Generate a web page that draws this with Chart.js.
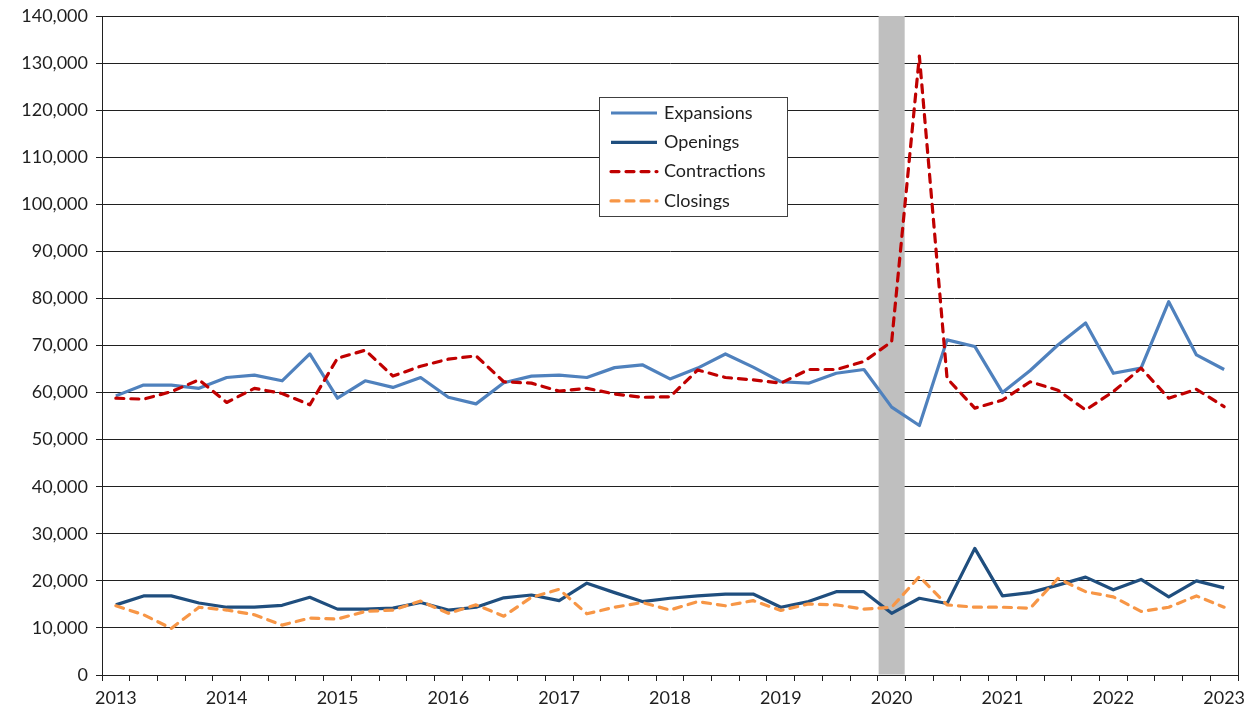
<!DOCTYPE html>
<html>
<head>
<meta charset="utf-8">
<script src="https://cdn.jsdelivr.net/npm/chart.js@4.4.1/dist/chart.umd.min.js"></script>
<style>
  html, body { margin: 0; padding: 0; background: #fff; }
  #wrap { width: 1253px; height: 717px; }
</style>
</head>
<body>
<div id="wrap"><canvas id="chart" width="1253" height="717"></canvas></div>
<script>
// quarters, 2013 Q1 .. 2023 Q1
const quarters = [
  '2013 Q1', '2013 Q2', '2013 Q3', '2013 Q4',
  '2014 Q1', '2014 Q2', '2014 Q3', '2014 Q4',
  '2015 Q1', '2015 Q2', '2015 Q3', '2015 Q4',
  '2016 Q1', '2016 Q2', '2016 Q3', '2016 Q4',
  '2017 Q1', '2017 Q2', '2017 Q3', '2017 Q4',
  '2018 Q1', '2018 Q2', '2018 Q3', '2018 Q4',
  '2019 Q1', '2019 Q2', '2019 Q3', '2019 Q4',
  '2020 Q1', '2020 Q2', '2020 Q3', '2020 Q4',
  '2021 Q1', '2021 Q2', '2021 Q3', '2021 Q4',
  '2022 Q1', '2022 Q2', '2022 Q3', '2022 Q4',
  '2023 Q1'
];

const expansions = [
  59300, 61600, 61600, 60900, 63200, 63700, 62500, 68200, 58800, 62500,
  61100, 63200, 59000, 57600, 62100, 63500, 63700, 63200, 65300, 65900,
  62900, 65200, 68200, 65400, 62300, 62000, 64100, 64900, 56900, 53000,
  71200, 69800, 60000, 64700, 70100, 74800, 64100, 65200, 79300, 68000,
  64900
];
const openings = [
  14900, 16800, 16800, 15300, 14400, 14400, 14800, 16500, 14000, 14000,
  14200, 15400, 13800, 14400, 16400, 17000, 15800, 19500, 17500, 15600,
  16300, 16800, 17200, 17200, 14400, 15600, 17700, 17700, 13100, 16300,
  15200, 26900, 16800, 17500, 19100, 20800, 18100, 20300, 16600, 20000,
  18500
];
const contractions = [
  58800, 58600, 60200, 62700, 57900, 60900, 59800, 57400, 67300, 69000,
  63500, 65600, 67100, 67800, 62300, 62000, 60300, 60900, 59700, 59000,
  59100, 64800, 63200, 62700, 62000, 64900, 64900, 66600, 70800, 131500,
  63000, 56700, 58400, 62300, 60500, 56300, 60200, 65200, 58800, 60700,
  57000
];
const closings = [
  14700, 12800, 9900, 14400, 13800, 12800, 10600, 12100, 11900, 13500,
  13800, 15700, 13100, 14900, 12500, 16500, 18200, 13000, 14400, 15400,
  13800, 15600, 14700, 15800, 13700, 15100, 14900, 14000, 14400, 20900,
  14900, 14400, 14400, 14200, 20500, 17700, 16600, 13500, 14400, 16800,
  14400
];
// recession shading: 2020 Q1, full height
const recession = quarters.map(q => q === '2020 Q1' ? 140000 : null);

const yMax = 140000;
const yStep = 10000;

Chart.defaults.font.family = 'Lato, "Open Sans", sans-serif';
Chart.defaults.font.size = 18;
Chart.defaults.color = '#1e1e1e';

const axisColor = '#202020';

const lineSeries = [
  { label: 'Expansions', data: expansions, color: '#4f81bd', dash: [], order: 4 },
  { label: 'Openings', data: openings, color: '#1f4e7e', dash: [], order: 3 },
  { label: 'Contractions', data: contractions, color: '#c00000', dash: [8, 7], order: 2 },
  { label: 'Closings', data: closings, color: '#f79646', dash: [8, 7], order: 1 }
];

// legend box drawn on the canvas, inside the plot
const boxLegend = {
  id: 'boxLegend',
  afterDatasetsDraw(chart) {
    const ctx = chart.ctx;
    const x0 = 599.5, y0 = 97.5, w = 188, h = 119;
    ctx.save();
    ctx.fillStyle = '#fff';
    ctx.strokeStyle = '#404040';
    ctx.lineWidth = 1;
    ctx.fillRect(x0, y0, w, h);
    ctx.strokeRect(x0, y0, w, h);
    lineSeries.forEach((s, i) => {
      const y = 113 + i * 29.3;
      ctx.beginPath();
      ctx.strokeStyle = s.color;
      ctx.lineWidth = 3.2;
      ctx.lineCap = s.dash.length ? 'round' : 'butt';
      ctx.setLineDash(s.dash);
      ctx.moveTo(611, y);
      ctx.lineTo(657, y);
      ctx.stroke();
      ctx.setLineDash([]);
      ctx.fillStyle = '#1e1e1e';
      ctx.font = '18px Lato, "Open Sans", sans-serif';
      ctx.textBaseline = 'middle';
      ctx.textAlign = 'left';
      ctx.fillText(s.label, 664, y);
    });
    ctx.restore();
  },
  afterDraw(chart) {
    // right frame line
    const a = chart.chartArea;
    const ctx = chart.ctx;
    ctx.save();
    ctx.strokeStyle = axisColor;
    ctx.lineWidth = 1;
    ctx.beginPath();
    ctx.moveTo(Math.round(a.right) + 0.5, a.top);
    ctx.lineTo(Math.round(a.right) + 0.5, a.bottom);
    ctx.stroke();
    ctx.restore();
  }
};

const datasets = lineSeries.map(s => ({
  type: 'line',
  label: s.label,
  data: s.data,
  borderColor: s.color,
  backgroundColor: s.color,
  borderWidth: 3.2,
  borderDash: s.dash,
  borderCapStyle: s.dash.length ? 'round' : 'butt',
  borderJoinStyle: 'round',
  pointRadius: 0,
  tension: 0,
  fill: false,
  order: s.order
}));
datasets.push({
  type: 'bar',
  label: 'Recession',
  data: recession,
  backgroundColor: '#bfbfbf',
  borderWidth: 0,
  barPercentage: 0.94,
  categoryPercentage: 1,
  order: 5
});

new Chart(document.getElementById('chart'), {
  data: { labels: quarters, datasets: datasets },
  options: {
    responsive: false,
    animation: false,
    layout: { padding: { top: 16, right: 15, left: 0, bottom: 0 } },
    plugins: {
      legend: { display: false },
      tooltip: { enabled: false }
    },
    scales: {
      x: {
        type: 'category',
        offset: true,
        afterFit(scale) { scale.height = 42; },
        grid: {
          offset: true,
          drawOnChartArea: false,
          drawTicks: true,
          tickLength: 6,
          color: axisColor
        },
        border: { display: true, color: axisColor, width: 1 },
        ticks: {
          autoSkip: false,
          maxRotation: 0,
          padding: 6,
          callback: function(value, index) {
            const q = quarters[index];
            return q.endsWith('Q1') ? q.slice(0, 4) : '';
          }
        }
      },
      y: {
        min: 0,
        max: yMax,
        afterFit(scale) {
          scale.width = 102;
          scale.paddingTop = 0;
          scale.paddingBottom = 0;
        },
        grid: {
          color: axisColor,
          lineWidth: 1,
          drawTicks: true,
          tickLength: 6
        },
        border: { display: true, color: axisColor, width: 1 },
        ticks: {
          stepSize: yStep,
          padding: 8,
          callback: function(value) {
            return value.toLocaleString('en-US');
          }
        }
      }
    }
  },
  plugins: [boxLegend]
});
</script>
</body>
</html>
